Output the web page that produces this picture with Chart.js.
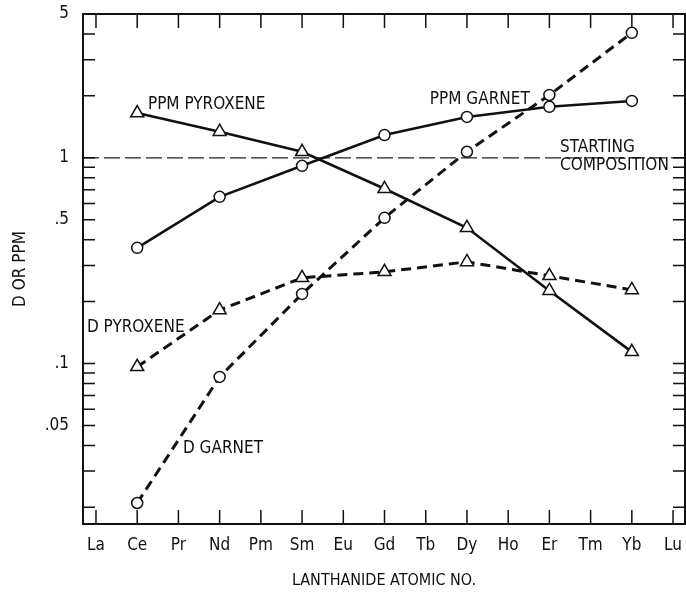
<!DOCTYPE html>
<html>
<head>
<meta charset="utf-8">
<script src="https://cdn.jsdelivr.net/npm/chart.js@4/dist/chart.umd.min.js"></script>
<style>
body { margin: 0; background: #fff; }
</style>
</head>
<body>
<canvas id="chart_ree" width="686" height="596"></canvas>
<script>
// lanthanides along the bottom, and the ones that were measured
var elements = ['La', 'Ce', 'Pr', 'Nd', 'Pm', 'Sm', 'Eu', 'Gd', 'Tb', 'Dy', 'Ho', 'Er', 'Tm', 'Yb', 'Lu']
var measured = ['Ce', 'Nd', 'Sm', 'Gd', 'Dy', 'Er', 'Yb']

// ppm in each phase and partition coefficients, one value per measured element
var ppm_pyroxene = [1.65, 1.34, 1.07, 0.707, 0.457, 0.226, 0.114]
var ppm_garnet = [0.365, 0.646, 0.914, 1.29, 1.58, 1.77, 1.89]
var d_pyroxene = [0.0964, 0.182, 0.261, 0.279, 0.312, 0.267, 0.228]
var d_garnet = [0.0210, 0.0861, 0.218, 0.511, 1.07, 2.02, 4.05]
var starting_composition = 1

// log axis: every mark gets a tick, only these get a number
var y_ticks = [0.02, 0.03, 0.04, 0.05, 0.06, 0.07, 0.08, 0.09,
               0.1, 0.2, 0.3, 0.4, 0.5, 0.6, 0.7, 0.8, 0.9,
               1, 2, 3, 4, 5]
var y_tick_values = [5, 1, 0.5, 0.1, 0.05]
var y_tick_labels = ['5', '1', '.5', '.1', '.05']

var X_MIN = -0.315
var X_MAX = 14.29
var Y_MIN = 0.0166
var Y_MAX = 5

var FONT = "'Liberation Sans Narrow', 'DejaVu Sans Condensed', 'Roboto Condensed', 'Liberation Sans', sans-serif"

// curve labels, placed in data units
var notes = [
    { text: 'PPM PYROXENE', x: 1.26, y: 1.81 },
    { text: 'PPM GARNET', x: 8.10, y: 1.925 },
    { text: 'STARTING', x: 11.26, y: 1.118 },
    { text: 'COMPOSITION', x: 11.26, y: 0.914 },
    { text: 'D PYROXENE', x: -0.22, y: 0.150 },
    { text: 'D GARNET', x: 2.11, y: 0.0385 }
]

function to_points(values) {
    return values.map((v, i) => {
        return { x: elements.indexOf(measured[i]), y: v }
    })
}

function curve(label, values, point_style, dashed) {
    return {
        label: label,
        data: to_points(values),
        borderColor: '#111',
        borderWidth: dashed ? 3 : 2.6,
        borderDash: dashed ? [10, 6] : [],
        tension: 0,
        pointStyle: point_style,
        pointRadius: point_style == 'triangle' ? 7.5 : 5.5,
        pointBackgroundColor: '#fff',
        pointBorderColor: '#111',
        pointBorderWidth: 1.5,
        clip: false
    }
}

// box around the plot with short inward ticks on all four sides
var frame_plugin = {
    id: 'frame',
    afterDraw: function (chart) {
        var ctx = chart.ctx
        var area = chart.chartArea
        var xs = chart.scales.x
        var ys = chart.scales.y
        ctx.save()
        ctx.strokeStyle = '#111'
        ctx.lineWidth = 1.5
        ctx.beginPath()
        ys.ticks.forEach((t) => {
            var py = ys.getPixelForValue(t.value)
            ctx.moveTo(area.left, py)
            ctx.lineTo(area.left + 12, py)
            ctx.moveTo(area.right - 12, py)
            ctx.lineTo(area.right, py)
        })
        xs.ticks.forEach((t) => {
            var px = xs.getPixelForValue(t.value)
            ctx.moveTo(px, area.bottom)
            ctx.lineTo(px, area.bottom - 14)
            ctx.moveTo(px, area.top)
            ctx.lineTo(px, area.top + 14)
        })
        ctx.stroke()
        ctx.lineWidth = 2
        ctx.strokeRect(area.left, area.top, area.right - area.left, area.bottom - area.top)

        ctx.fillStyle = '#111'
        ctx.font = '17px ' + FONT
        ctx.textAlign = 'left'
        ctx.textBaseline = 'middle'
        notes.forEach((n) => {
            ctx.fillText(n.text, xs.getPixelForValue(n.x), ys.getPixelForValue(n.y))
        })
        ctx.restore()
    }
}

new Chart(document.getElementById('chart_ree'), {
    type: 'line',
    data: {
        datasets: [
            curve('PPM PYROXENE', ppm_pyroxene, 'triangle', false),
            curve('PPM GARNET', ppm_garnet, 'circle', false),
            curve('D PYROXENE', d_pyroxene, 'triangle', true),
            curve('D GARNET', d_garnet, 'circle', true),
            {
                label: 'STARTING COMPOSITION',
                data: [{ x: X_MIN, y: starting_composition }, { x: X_MAX, y: starting_composition }],
                borderColor: '#222',
                borderWidth: 1.2,
                borderDash: [16, 5],
                pointRadius: 0,
                order: 1
            }
        ]
    },
    options: {
        responsive: false,
        animation: false,
        layout: {
            autoPadding: false,
            padding: { top: 14, right: 1, left: 0, bottom: 0 }
        },
        plugins: {
            legend: { display: false },
            tooltip: { enabled: false }
        },
        scales: {
            x: {
                type: 'linear',
                min: X_MIN,
                max: X_MAX,
                grid: { display: false, drawTicks: false },
                border: { display: false },
                afterBuildTicks: function (scale) {
                    scale.ticks = elements.map((e, i) => {
                        return { value: i }
                    })
                },
                afterFit: function (scale) {
                    scale.height = 72
                    scale.paddingLeft = 0
                    scale.paddingRight = 0
                },
                ticks: {
                    autoSkip: false,
                    maxRotation: 0,
                    padding: 11,
                    color: '#111',
                    font: { family: FONT, size: 17 },
                    callback: function (value) {
                        return elements[value] || ''
                    }
                },
                title: {
                    display: true,
                    text: 'LANTHANIDE ATOMIC NO.',
                    color: '#111',
                    font: { family: FONT, size: 16 },
                    padding: { top: 0, bottom: 6 }
                }
            },
            y: {
                type: 'logarithmic',
                min: Y_MIN,
                max: Y_MAX,
                grid: { display: false, drawTicks: false },
                border: { display: false },
                afterBuildTicks: function (scale) {
                    scale.ticks = y_ticks.map((v) => {
                        return { value: v }
                    })
                },
                afterFit: function (scale) {
                    scale.width = 83
                    scale.paddingTop = 0
                    scale.paddingBottom = 0
                },
                ticks: {
                    autoSkip: false,
                    padding: 14,
                    color: '#111',
                    font: { family: FONT, size: 17 },
                    callback: function (value) {
                        var k = y_tick_values.indexOf(value)
                        return k >= 0 ? y_tick_labels[k] : ''
                    }
                },
                title: {
                    display: true,
                    text: 'D OR PPM',
                    color: '#111',
                    font: { family: FONT, size: 17 },
                    padding: { top: 10, bottom: 0 }
                }
            }
        }
    },
    plugins: [frame_plugin]
})
</script>
</body>
</html>
